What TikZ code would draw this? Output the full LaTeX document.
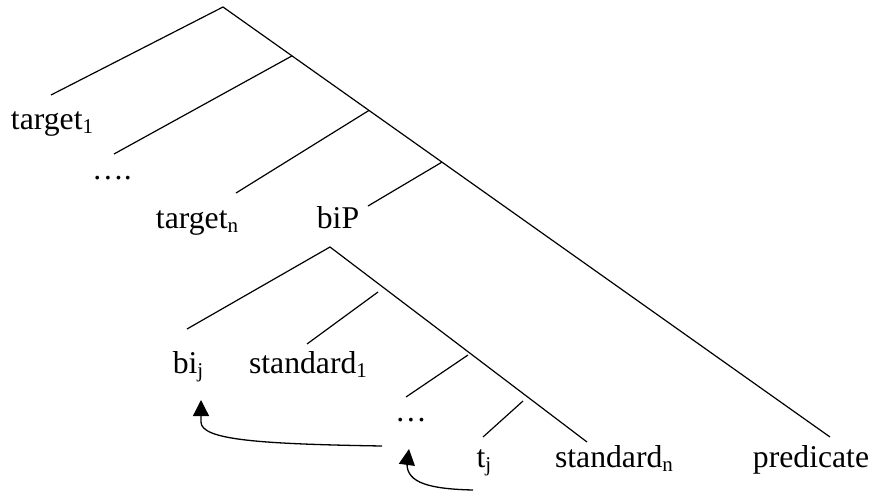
\documentclass[tikz,border=0pt]{standalone}
\usepackage{fontspec}
\setmainfont{Liberation Serif}
\usetikzlibrary{arrows.meta}
\newcommand{\sbs}[1]{\raisebox{-4pt}{\fontsize{21}{21}\selectfont #1}}
\begin{document}
\begin{tikzpicture}[x=1pt,y=-1pt,
  lbl/.style={anchor=base, inner sep=0pt, font=\fontsize{31.7}{38}\selectfont},
  br/.style={line width=1.2pt},
  mv/.style={line width=1.3pt, -{Triangle[length=16pt,width=16pt]}}]
\useasboundingbox (0,0) rectangle (874,492);
% main tree
\coordinate (r) at (223,7);
\coordinate (l1) at (51,95);
\coordinate (s1) at (292,55.9);
\coordinate (l2) at (114,154);
\coordinate (s2) at (369,110.4);
\coordinate (l3) at (236,193);
\coordinate (s3) at (442,162.1);
\coordinate (l4) at (368,206);
\coordinate (pe) at (830,437);
\draw[br] (l1) -- (r) -- (pe);
\draw[br] (l2) -- (s1);
\draw[br] (l3) -- (s2);
\draw[br] (l4) -- (s3);
% subtree
\coordinate (b) at (330,247);
\coordinate (bl) at (187,329);
\coordinate (be) at (587,442);
\coordinate (c1a) at (307,344);
\coordinate (c1b) at (378,292);
\coordinate (c2a) at (406,397);
\coordinate (c2b) at (468,355);
\coordinate (c3a) at (483,437);
\coordinate (c3b) at (523,401);
\draw[br] (bl) -- (b) -- (be);
\draw[br] (c1a) -- (c1b);
\draw[br] (c2a) -- (c2b);
\draw[br] (c3a) -- (c3b);
% labels
\node[lbl] (t1) at (52,129) {target\sbs{1}};
\node[lbl] (dd) at (112,179) {….};
\node[lbl] (tn) at (197,228) {target\sbs{n}};
\node[lbl] (bip) at (338,228) {biP};
\node[lbl] (bij) at (188,373) {bi\sbs{j}};
\node[lbl] (st1) at (308,373) {standard\sbs{1}};
\node[lbl] (d3) at (411,421) {…};
\node[lbl] (tj) at (484,467) {t\sbs{j}};
\node[lbl] (stn) at (614,467) {standard\sbs{n}};
\node[lbl] (pred) at (811,467) {predicate};
% movement arrows
\coordinate (a1s) at (382,446);
\coordinate (a1t) at (201,400);
\coordinate (a2s) at (473,490);
\coordinate (a2t) at (409,449);
\draw[mv] (a1s) .. controls (260,444) and (201,440) .. (201,422) -- (a1t);
\draw[mv] (a2s) .. controls (430,489) and (407,483) .. (407,464) -- (a2t);
\end{tikzpicture}
\end{document}
